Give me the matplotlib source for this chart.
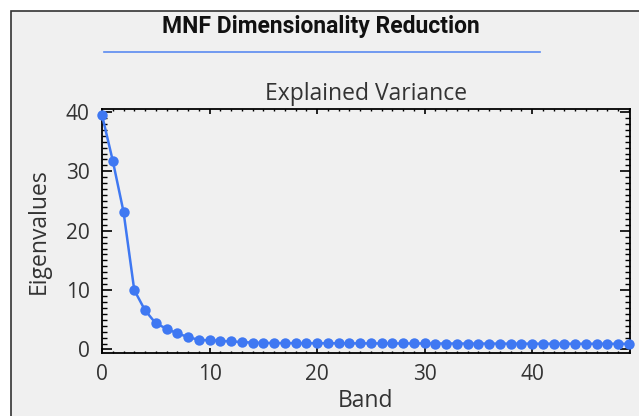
import matplotlib
matplotlib.use("Agg")
import matplotlib.pyplot as plt
from matplotlib.lines import Line2D
from matplotlib.patches import Rectangle
from matplotlib.ticker import MultipleLocator

bands = list(range(50))
eigenvalues = [39.5, 31.8, 23.2, 10.0, 6.6, 4.4, 3.5, 2.7, 2.1, 1.6,
               1.55, 1.45, 1.35, 1.25, 1.15, 1.10, 1.08, 1.07, 1.06, 1.05,
               1.05, 1.04, 1.04, 1.03, 1.03, 1.02, 1.02, 1.02, 1.01, 1.01,
               1.01, 1.00, 1.00, 1.00, 0.99, 0.99, 0.99, 0.98, 0.98, 0.98,
               0.97, 0.97, 0.97, 0.97, 0.96, 0.96, 0.96, 0.96, 0.95, 0.95]
xticks = [0, 10, 20, 30, 40]
yticks = [0, 10, 20, 30, 40]

W, H = 639, 416
bg = "#f0f0f0"
blue = "#3f78f2"
txt = "#333333"
sans = ["Open Sans", "DejaVu Sans"]

fig = plt.figure(figsize=(W / 100, H / 100), dpi=100, facecolor="white")

# panel with a thin dark frame on the top/left edges (right/bottom run off the canvas)
fig.patches.append(Rectangle((11 / W, -0.1), 1, 1.1 - 11 / H, transform=fig.transFigure,
                             facecolor=bg, edgecolor="#333333", linewidth=1.2, zorder=-5))

fig.text(321 / W, 1 - 27 / H, "MNF Dimensionality Reduction", ha="center", va="center",
         fontsize=16.5, fontweight="bold", color="#111111",
         family=["Liberation Sans Narrow", "Roboto", "DejaVu Sans"])
fig.add_artist(Line2D([104 / W, 540 / W], [1 - 52 / H, 1 - 52 / H],
                      transform=fig.transFigure, color="#5a8af0", linewidth=1.2))

ax = fig.add_axes([102 / W, 1 - 353 / H, (630 - 102) / W, (353 - 109) / H])
ax.set_facecolor(bg)
ax.plot(bands, eigenvalues, color=blue, linewidth=1.8, marker="o",
        markersize=7.5, markeredgewidth=0, clip_on=False, zorder=3)

ax.set_xlim(0, 49.1)
ax.set_ylim(-0.6, 40.5)
ax.set_xticks(xticks)
ax.set_yticks(yticks)
ax.xaxis.set_minor_locator(MultipleLocator(1))
ax.yaxis.set_minor_locator(MultipleLocator(1))

for s in ax.spines.values():
    s.set_linewidth(1.3)
    s.set_color("black")

ax.tick_params(axis="x", which="major", direction="in", length=3.3, width=1.2,
               top=True, bottom=True, labelsize=15, labelcolor=txt, pad=8)
ax.tick_params(axis="x", which="minor", direction="in", length=1.7, width=1.0,
               top=True, bottom=True)
ax.tick_params(axis="y", which="major", direction="in", length=7.2, width=1.2,
               left=True, right=True, labelsize=15, labelcolor=txt, pad=9)
ax.tick_params(axis="y", which="minor", direction="in", length=3.6, width=1.0,
               left=True, right=True)
for lab in ax.get_xticklabels() + ax.get_yticklabels():
    lab.set_family(sans)

ax.set_title("Explained Variance", fontsize=16.5, color=txt, pad=6.5, family=sans)
ax.set_xlabel("Band", fontsize=16.5, color=txt, labelpad=3, family=sans)
ax.set_ylabel("Eigenvalues", fontsize=16.5, color=txt, labelpad=11, family=sans)

fig.savefig("out.png", dpi=100, facecolor="white")
